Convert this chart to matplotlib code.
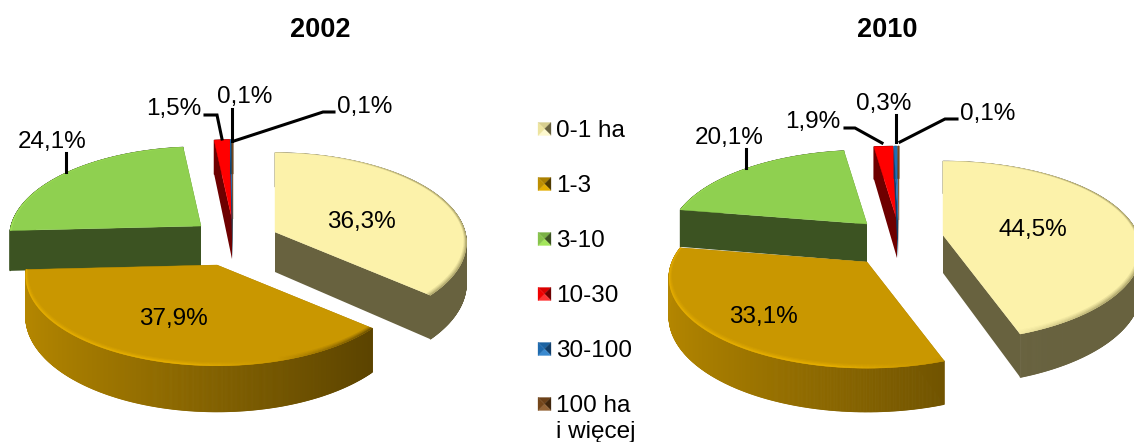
import numpy as np
import matplotlib
matplotlib.use('Agg')
import matplotlib.pyplot as plt
from matplotlib.collections import PolyCollection
from matplotlib.colors import to_rgb
from matplotlib.patches import Polygon

plt.rcParams['font.family'] = ['Liberation Sans', 'DejaVu Sans']

categories = ['0-1 ha', '1-3', '3-10', '10-30', '30-100', '100 ha\ni więcej']
title_a = '2002'
title_b = '2010'
values_a = [36.3, 37.9, 24.1, 1.5, 0.1, 0.1]
values_b = [44.5, 33.1, 20.1, 1.9, 0.3, 0.1]

# look of the slices
top_col = ['#fcf2aa', '#c99700', '#8fd050', '#ff0000', '#1f6fb5', '#7a4a1c']
wall_left = ['#68623f', '#b58700', '#3c5322', '#6e0000', '#123f6a', '#40260c']
wall_right = ['#68623f', '#4f3a00', '#3c5322', '#6e0000', '#123f6a', '#40260c']
rim_light = ['#fffbd8', '#ecb400', '#a8ec5c', '#ff4040', '#3f8fd5', '#9a6a3c']
rim_dark = ['#a8a068', '#5f4700', '#5c8a30', '#a00000', '#123f6a', '#40260c']
draw_order = [2, 3, 4, 5, 0, 1]

# pixel layout of the two pies
pie_a = dict(cx=232, cy=219, rx=190, ry=90, k=0.12, depth=40,
             explode=[(43, 13), (-15, 46), (-31, 7), (0, 0), (0.5, 0), (1, 0)])
pie_b = dict(cx=897, cy=219, rx=195, ry=90, k=0.18, depth=38,
             explode=[(46, 16), (-30, 43), (-30, 5), (0, 1), (1, 1), (2, 1)])

labels_a = ['36,3%', '37,9%', '24,1%', '1,5%', '0,1%', '0,1%']
labels_b = ['44,5%', '33,1%', '20,1%', '1,9%', '0,3%', '0,1%']
label_pos_a = [(361, 222), (173, 319), (52, 142), (174, 109), (245, 97), (365, 107)]
label_pos_b = [(1033, 230), (763, 317), (729, 138), (813, 122), (884, 104), (988, 114)]
leaders_a = [[(66, 153), (66, 172)], [(205, 115), (217, 115), (222, 139)],
             [(232, 109), (232, 141)], [(234, 141), (323, 112), (334, 112)]]
leaders_b = [[(746, 149), (746, 168)], [(845, 128), (855, 128), (882, 143)],
             [(896, 115), (896, 142)], [(900, 142), (945, 119), (957, 119)]]


def mix(c1, c2, f):
    c1 = np.array(to_rgb(c1))
    c2 = np.array(to_rgb(c2))
    return tuple(c1 + (c2 - c1) * f)


def draw_pie(ax, values, p):
    ends = np.cumsum(values) / np.sum(values) * 2 * np.pi
    starts = np.concatenate(([0], ends[:-1]))
    for i in draw_order:
        ax0 = p['cx'] + p['explode'][i][0]
        ay0 = p['cy'] + p['explode'][i][1]

        def pt(t, r=1.0):
            s = 1 - p['k'] * np.cos(t) * r
            return (ax0 + p['rx'] * r * np.sin(t) * s,
                    ay0 - p['ry'] * r * np.cos(t) * s)

        def dep(t, r=1.0):
            return p['depth'] * (1 - 0.15 * np.cos(t) * r)

        ts = np.linspace(starts[i], ends[i], max(3, int(values[i] * 12)))
        arc = np.array([pt(t) for t in ts])
        low = arc + np.column_stack((np.zeros(len(ts)), [dep(t) for t in ts]))
        apex = (ax0, ay0)
        apex_low = (ax0, ay0 + p['depth'])

        # radial walls
        for j in [0, -1]:
            ax.add_patch(Polygon([apex, arc[j], low[j], apex_low], closed=True,
                                 fc=mix(wall_left[i], wall_right[i], 0.5),
                                 ec='none', zorder=1))

        # outer wall, shaded left to right
        polys = []
        cols = []
        for n in range(len(ts) - 1):
            polys.append([arc[n], arc[n + 1], low[n + 1], low[n]])
            f = 0.5 + 0.5 * np.sin(ts[n])
            cols.append(mix(wall_left[i], wall_right[i], f))
        ax.add_collection(PolyCollection(polys, facecolors=cols, edgecolors=cols,
                                         linewidths=0.6, zorder=1))

        # top face
        ax.add_patch(Polygon(np.vstack(([apex], arc)), closed=True, fc=top_col[i],
                             ec=top_col[i], lw=0.3, zorder=1))

        # soft rim along the arc, wider at the front
        if values[i] > 5:
            for w, a in [(1.0, 0.2), (0.7, 0.3), (0.4, 0.5), (0.2, 0.6)]:
                polys = []
                cols = []
                for n in range(len(ts) - 1):
                    t1, t2 = ts[n], ts[n + 1]
                    wid1 = 0.012 + 0.022 * max(0, -np.cos(t1))
                    wid2 = 0.012 + 0.022 * max(0, -np.cos(t2))
                    polys.append([pt(t1), pt(t2), pt(t2, 1 - w * wid2), pt(t1, 1 - w * wid1)])
                    m = np.sin(t1)
                    if m > 0.3:
                        c = mix(top_col[i], rim_dark[i], min(1, (m - 0.3) * 2.2))
                    else:
                        c = mix(top_col[i], rim_light[i], min(1, (0.3 - m) * 2.2))
                    cols.append(c + (a,))
                ax.add_collection(PolyCollection(polys, facecolors=cols, edgecolors='none', zorder=1))


def legend_marker(ax, x, y, i, size=13):
    h = size / 2
    c = (x + h, y)
    tl, tr = (x, y - h), (x + size, y - h)
    bl, br = (x, y + h), (x + size, y + h)
    faces = [([tl, tr, c], mix(top_col[i], wall_right[i], 0.25)),
             ([tr, br, c], wall_right[i]),
             ([br, bl, c], mix(top_col[i], rim_light[i], 0.8)),
             ([bl, tl, c], mix(top_col[i], wall_right[i], 0.1))]
    for pts, col in faces:
        ax.add_patch(Polygon(pts, closed=True, fc=col, ec=col, lw=0.2, zorder=2))


fig = plt.figure(figsize=(11.34, 4.42), dpi=100)
ax = fig.add_axes([0, 0, 1, 1])
ax.set_xlim(0, 1134)
ax.set_ylim(442, 0)
ax.axis('off')

draw_pie(ax, values_a, pie_a)
draw_pie(ax, values_b, pie_b)

for labels, pos, leaders in [(labels_a, label_pos_a, leaders_a), (labels_b, label_pos_b, leaders_b)]:
    for s, (x, y) in zip(labels, pos):
        ax.text(x, y, s, fontsize=17.5, ha='center', va='center', zorder=4)
    for line in leaders:
        xs, ys = zip(*line)
        ax.plot(xs, ys, color='black', lw=2.2, solid_joinstyle='miter', zorder=3)

ax.text(320, 30, title_a, fontsize=19.5, fontweight='bold', ha='center', va='center')
ax.text(887, 30, title_b, fontsize=19.5, fontweight='bold', ha='center', va='center')

for i, name in enumerate(categories):
    y = 129 + i * 55
    legend_marker(ax, 538, y, i)
    ax.text(556, y - 9, name, fontsize=17.5, ha='left', va='top', linespacing=1.25)

fig.savefig('out.png', dpi=100)
